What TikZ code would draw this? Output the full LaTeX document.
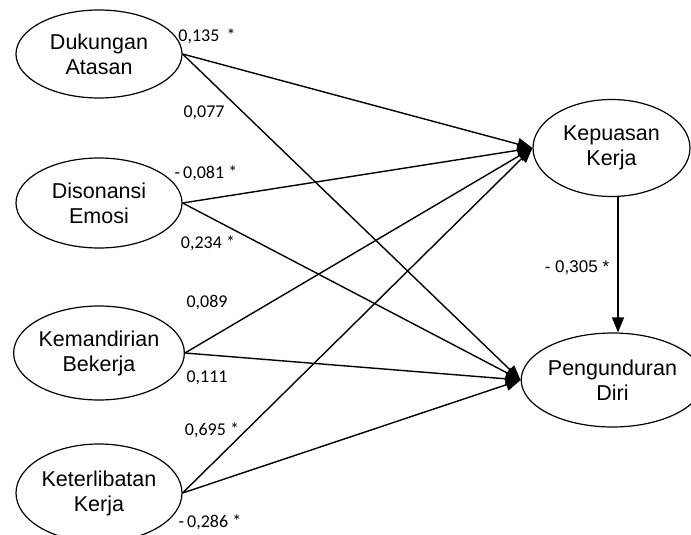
\documentclass[tikz,border=0pt]{standalone}
\usepackage{fontspec}
\setmainfont{Liberation Sans}
\newfontfamily\labfont{Carlito}
\usetikzlibrary{shapes.geometric,arrows.meta}
\begin{document}
\begin{tikzpicture}[x=1pt,y=-1pt,
  latent/.style={draw,ellipse,line width=1.2pt,inner sep=0pt,align=center,
    font=\fontsize{21.5}{25}\selectfont},
  path/.style={line width=1.4pt,-{Triangle[length=15pt,width=12pt]}},
  coef/.style={font=\labfont\fontsize{18}{20}\selectfont,inner sep=0pt},
  coefb/.style={font=\fontsize{17}{20}\selectfont,inner sep=0pt}]
\useasboundingbox (0,0) rectangle (691,535);
\begin{scope}
\clip (0,0) rectangle (691,535);
\node[latent,minimum width=166pt,minimum height=88pt] (da) at (99,54) {Dukungan\\Atasan};
\node[latent,minimum width=166pt,minimum height=90pt] (de) at (99,203) {Disonansi\\Emosi};
\node[latent,minimum width=166pt,minimum height=94pt] (kb) at (99,353) {Kemandirian\\Bekerja};
\node[latent,minimum width=166pt,minimum height=98pt] (kt) at (99,493) {Keterlibatan\\Kerja};
\node[latent,minimum width=157pt,minimum height=97pt] (kp) at (611.5,148) {Kepuasan\\Kerja};
\node[latent,minimum width=155pt,minimum height=94pt] (pd) at (612.5,380) {Pengunduran\\Diri};
\end{scope}
\foreach \s in {da,de,kb,kt}{
  \draw[path] (\s.east) -- (kp.west);
  \draw[path] (\s.east) -- (pd.west);
}
\draw[path] (kp.south -| 618,0) -- (pd.north -| 618,0);
\node[coef] (c1) at (207,36) {0,135\,\ *};
\node[coef] (c2) at (204,113) {0,077};
\node[coef] (c3) at (206,173) {-\,0,081 *};
\node[coef] (c4) at (208,243) {0,234 *};
\node[coef] (c5) at (207,303) {0,089};
\node[coef] (c6) at (207,378) {0,111};
\node[coef] (c7) at (212,430) {0,695 *};
\node[coef] (c8) at (210,522) {-\,0,286 *};
\node[coefb] (c9) at (577,268) {- 0,305 *};
\end{tikzpicture}
\end{document}
